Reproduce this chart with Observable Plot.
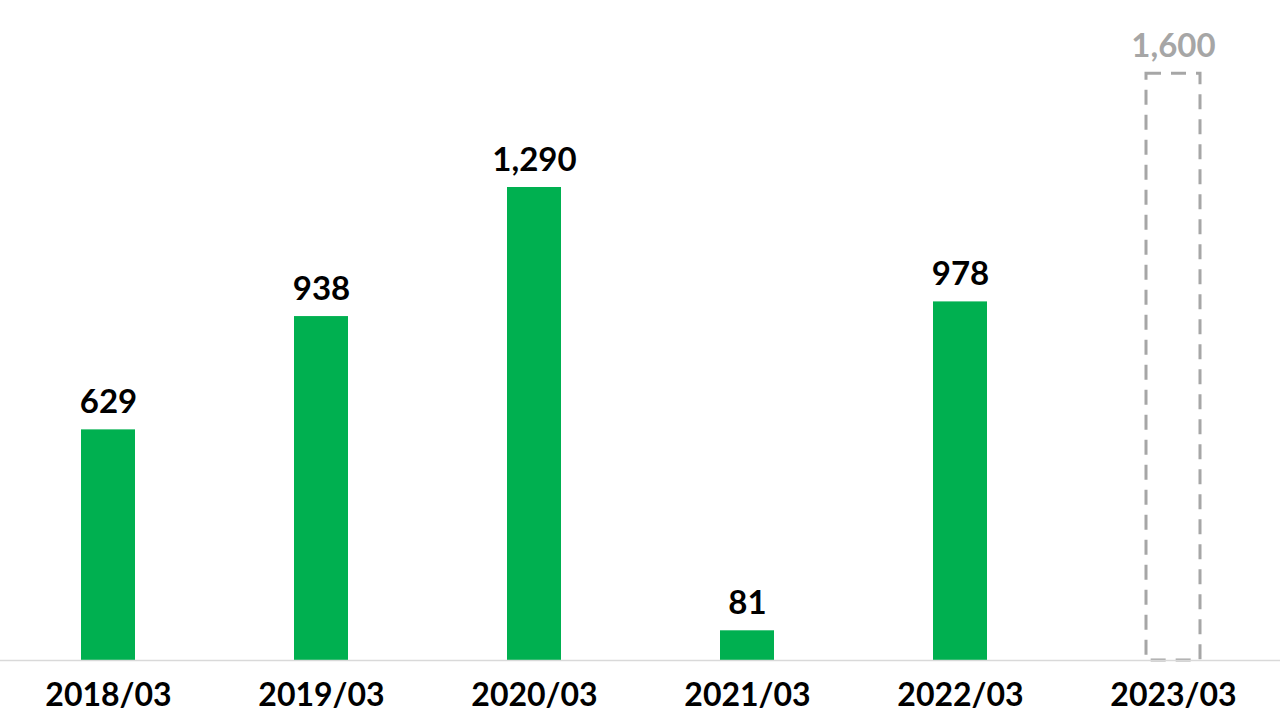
<!DOCTYPE html>
<html>
<head>
<meta charset="utf-8">
<script src="https://cdn.jsdelivr.net/npm/d3@7"></script>
<script src="https://cdn.jsdelivr.net/npm/@observablehq/plot@0.6"></script>
<style>
  html, body { margin: 0; padding: 0; background: #fff; }
  #chart svg { display: block; }
</style>
</head>
<body>
<div id="chart"></div>
<script>
const categories = ["2018/03", "2019/03", "2020/03", "2021/03", "2022/03", "2023/03"];
const actualValues = [629, 938, 1290, 81, 978, null];
const forecastValues = [null, null, null, null, null, 1600];

const actual = categories.map((c, i) => ({cat: c, value: actualValues[i]})).filter(d => d.value != null);
const forecast = categories.map((c, i) => ({cat: c, value: forecastValues[i]})).filter(d => d.value != null);

const fmt = d3.format(",");
const font = "Lato, 'Open Sans', sans-serif";

const chart = Plot.plot({
  width: 1280,
  height: 720,
  marginTop: 0,
  marginBottom: 60,
  marginLeft: 0,
  marginRight: 0,
  style: {fontFamily: font, background: "#fff"},
  x: {domain: categories, paddingInner: 0.747, paddingOuter: 0.3735, label: null},
  y: {domain: [0, 1800], axis: null},
  marks: [
    Plot.barY(actual, {x: "cat", y: "value", fill: "#00b050"}),
    Plot.barY(forecast, {x: "cat", y: "value", fill: "none", stroke: "#a6a6a6", strokeWidth: 3, strokeDasharray: "15,10"}),
    Plot.ruleY([0], {stroke: "#d9d9d9", strokeWidth: 1.5}),
    Plot.text(actual, {x: "cat", y: "value", text: d => fmt(d.value), dy: -27, fill: "#000", fontSize: 33, fontWeight: "bold", lineAnchor: "middle"}),
    Plot.text(forecast, {x: "cat", y: "value", text: d => fmt(d.value), dy: -27, fill: "#a6a6a6", fontSize: 33, fontWeight: "bold", lineAnchor: "middle"}),
    Plot.axisX({tickSize: 0, tickPadding: 23, fontSize: 32, fontWeight: "bold", color: "#000", label: null})
  ]
});
document.getElementById("chart").appendChild(chart);
</script>
</body>
</html>
